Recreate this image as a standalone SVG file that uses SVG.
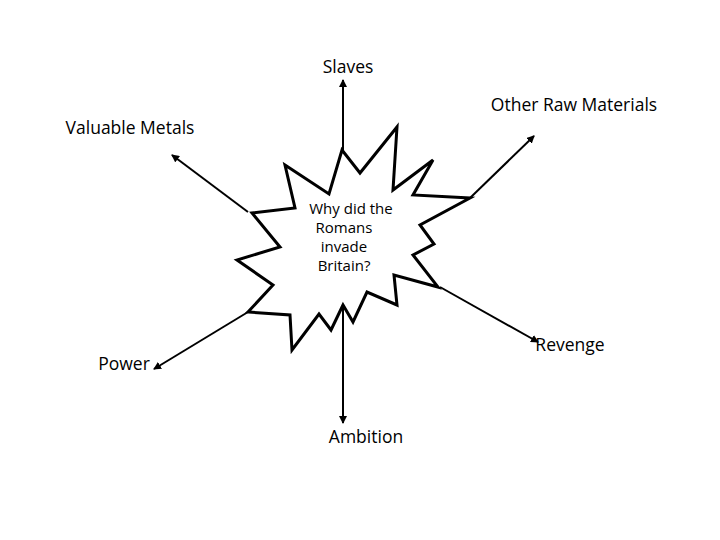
<svg xmlns="http://www.w3.org/2000/svg" width="720" height="540" viewBox="0 0 720 540">
<style>
text{font-family:"Open Sans","Liberation Sans",sans-serif;font-size:17.5px;fill:#000}
.s{font-size:15px}
.c{stroke:#000;stroke-width:2;fill:none;marker-end:url(#a)}
</style>
<defs><marker id="a" markerWidth="8" markerHeight="8" refX="7" refY="4" orient="auto" markerUnits="userSpaceOnUse"><path d="M0,0L8,4L0,8z" fill="#000"/></marker></defs>
<rect width="720" height="540" fill="#fff"/>
<g id="connectors">
<line class="c" x1="343" y1="150" x2="343" y2="80"/>
<line class="c" x1="343" y1="305" x2="343" y2="423"/>
<line class="c" x1="248" y1="212" x2="172" y2="155"/>
<line class="c" x1="470" y1="198" x2="534" y2="136"/>
<line class="c" x1="440" y1="287" x2="538" y2="342"/>
<line class="c" x1="248" y1="312" x2="154" y2="369"/>
</g>
<g id="center">
<polygon points="285,165 329,194 342,150 360,173 397,127 393,190 433,160 413,195 470,198 420,225 434,244 413,255 438,287 394,275 397,305 367,292 353,322 343,305 331,330 319,314 292,350 290,315 248,312 273,285 237,260 280,247 252,213 295,208" fill="#fff" stroke="#000" stroke-width="3" stroke-linejoin="miter"/>
<text class="s" x="351" y="214" text-anchor="middle">Why did the</text>
<text class="s" x="344" y="233" text-anchor="middle">Romans</text>
<text class="s" x="344" y="252" text-anchor="middle">invade</text>
<text class="s" x="344" y="271" text-anchor="middle">Britain?</text>
</g>
<g id="slaves"><text x="348" y="73" text-anchor="middle">Slaves</text></g>
<g id="metals"><text x="130" y="134" text-anchor="middle">Valuable Metals</text></g>
<g id="raw"><text x="574" y="111" text-anchor="middle">Other Raw Materials</text></g>
<g id="revenge"><text x="570" y="351" text-anchor="middle">Revenge</text></g>
<g id="power"><text x="124" y="370" text-anchor="middle">Power</text></g>
<g id="ambition"><text x="366" y="443" text-anchor="middle">Ambition</text></g>
</svg>
